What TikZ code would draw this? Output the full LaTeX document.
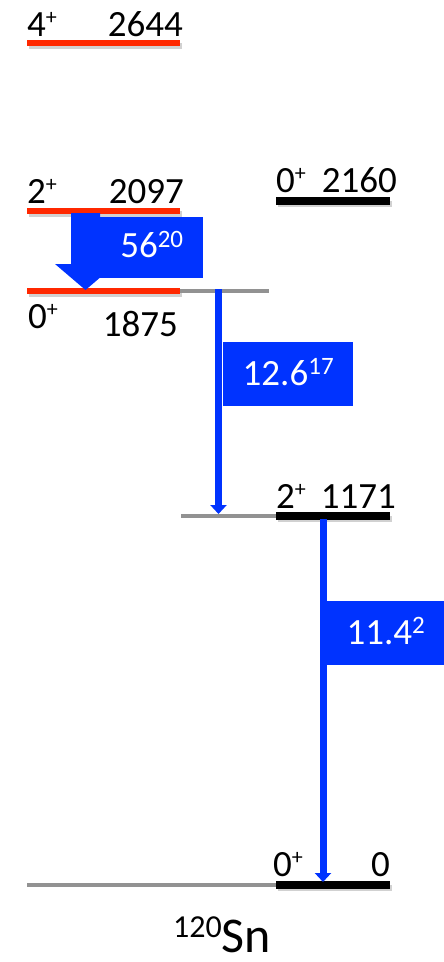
\documentclass[tikz,border=0pt]{standalone}
\usepackage{fontspec}
\setmainfont{Carlito}
\usetikzlibrary{arrows.meta}
\definecolor{lvred}{RGB}{255,40,0}
\definecolor{gblue}{RGB}{0,51,255}
\definecolor{lvgray}{RGB}{146,146,146}
\newcommand{\plussup}{\raisebox{0.3em}{\fontsize{22}{24}\selectfont +}}
\newcommand{\numsup}[1]{\raisebox{0.28em}{\fontsize{25}{27}\selectfont #1}}
\begin{document}
\begin{tikzpicture}[x=1pt,y=-1pt,
  lbl/.style={inner sep=0pt, font=\fontsize{37}{40}\selectfont},
  wtxt/.style={inner sep=0pt, text=white, font=\fontsize{37}{40}\selectfont},
  redlvl/.style={lvred, line width=6pt},
  blklvl/.style={black, line width=7.5pt},
  graylvl/.style={lvgray, line width=4pt},
  shadowln/.style={black, opacity=0.18, line width=6pt},
  gbox/.style={fill=gblue, draw=none, inner sep=0pt},
  gam/.style={gblue, line width=7pt, -{Triangle[width=16pt,length=9pt]}}]
\useasboundingbox (0,0) rectangle (444,962);

% level coordinates
\coordinate (r4a) at (27,43);   \coordinate (r4b) at (180,43);
\coordinate (r2a) at (27,211);  \coordinate (r2b) at (180,211);
\coordinate (r0a) at (27,291);  \coordinate (r0b) at (180,291);
\coordinate (g0a) at (174,291); \coordinate (g0b) at (269,291);
\coordinate (k2160a) at (276,201); \coordinate (k2160b) at (390,201);
\coordinate (g1a) at (181,516); \coordinate (k1a) at (276,516); \coordinate (k1b) at (390,516);
\coordinate (ggsa) at (27,885); \coordinate (kgsa) at (276,885); \coordinate (kgsb) at (390,885);

% shadows
\foreach \a/\b in {r4a/r4b,r2a/r2b,r0a/r0b,k2160a/k2160b,k1a/k1b,kgsa/kgsb}
  \draw[shadowln] ([shift={(1.5,3)}]\a) -- ([shift={(1.5,3)}]\b);

% gray extensions
\draw[graylvl] (g0a) -- (g0b);
\draw[graylvl] (g1a) -- (k1a);
\draw[graylvl] (ggsa) -- (kgsa);

% levels
\draw[redlvl] (r4a) -- (r4b);
\draw[redlvl] (r2a) -- (r2b);
\draw[redlvl] (r0a) -- (r0b);
\draw[blklvl] (k2160a) -- (k2160b);
\draw[blklvl] (k1a) -- (k1b);
\draw[blklvl] (kgsa) -- (kgsb);

% labels
\node[lbl, anchor=base west] (j4) at (27,36) {4\plussup};
\node[lbl, anchor=base east] (e4) at (183,36) {2644};
\node[lbl, anchor=base west] (j2) at (27,203) {2\plussup};
\node[lbl, anchor=base east] (e2) at (184,203) {2097};
\node[lbl, anchor=base west] (j0) at (28,328) {0\plussup};
\node[lbl, anchor=base east] (e0) at (178,336) {1875};
\node[lbl, anchor=base west] (j2160) at (276,192) {0\plussup};
\node[lbl, anchor=base east] (e2160) at (397,192) {2160};
\node[lbl, anchor=base west] (j1) at (276,508) {2\plussup};
\node[lbl, anchor=base east] (e1) at (396,508) {1171};
\node[lbl, anchor=base west] (jgs) at (273,876) {0\plussup};
\node[lbl, anchor=base east] (egs) at (390,876) {0};
\node[inner sep=0pt, text depth=0pt, anchor=base west, font=\fontsize{50}{54}\selectfont] (nuc) at (173,952)
  {\raisebox{0.3em}{\fontsize{32}{34}\selectfont 120}Sn};

% 56 transition (fat arrow)
\fill[gblue] (71,213) -- (100,213) -- (100,264) -- (116,264) -- (85.5,290) -- (55,264) -- (71,264) -- cycle;
\node[gbox, minimum width=103pt, minimum height=61pt, anchor=north west] (b56) at (100,217) {};
\node[wtxt] (t56) at ([yshift=3]b56.center) {56\numsup{20}};

% 12.6 transition
\coordinate (s126) at (218.5,289);
\coordinate (e126) at (218.5,514);
\draw[gam] (s126) -- (e126);
\node[gbox, minimum width=130pt, minimum height=64pt, anchor=north west] (b126) at (223,342) {};
\node[wtxt] (t126) at ([yshift=2]b126.center) {12.6\numsup{17}};

% 11.4 transition
\coordinate (s114) at (323,519);
\coordinate (e114) at (323,882);
\draw[gam] (s114) -- (e114);
\node[gbox, minimum width=117pt, minimum height=64pt, anchor=north west] (b114) at (327,601) {};
\node[wtxt] (t114) at ([yshift=2]b114.center) {11.4\numsup{2}};
\end{tikzpicture}
\end{document}
